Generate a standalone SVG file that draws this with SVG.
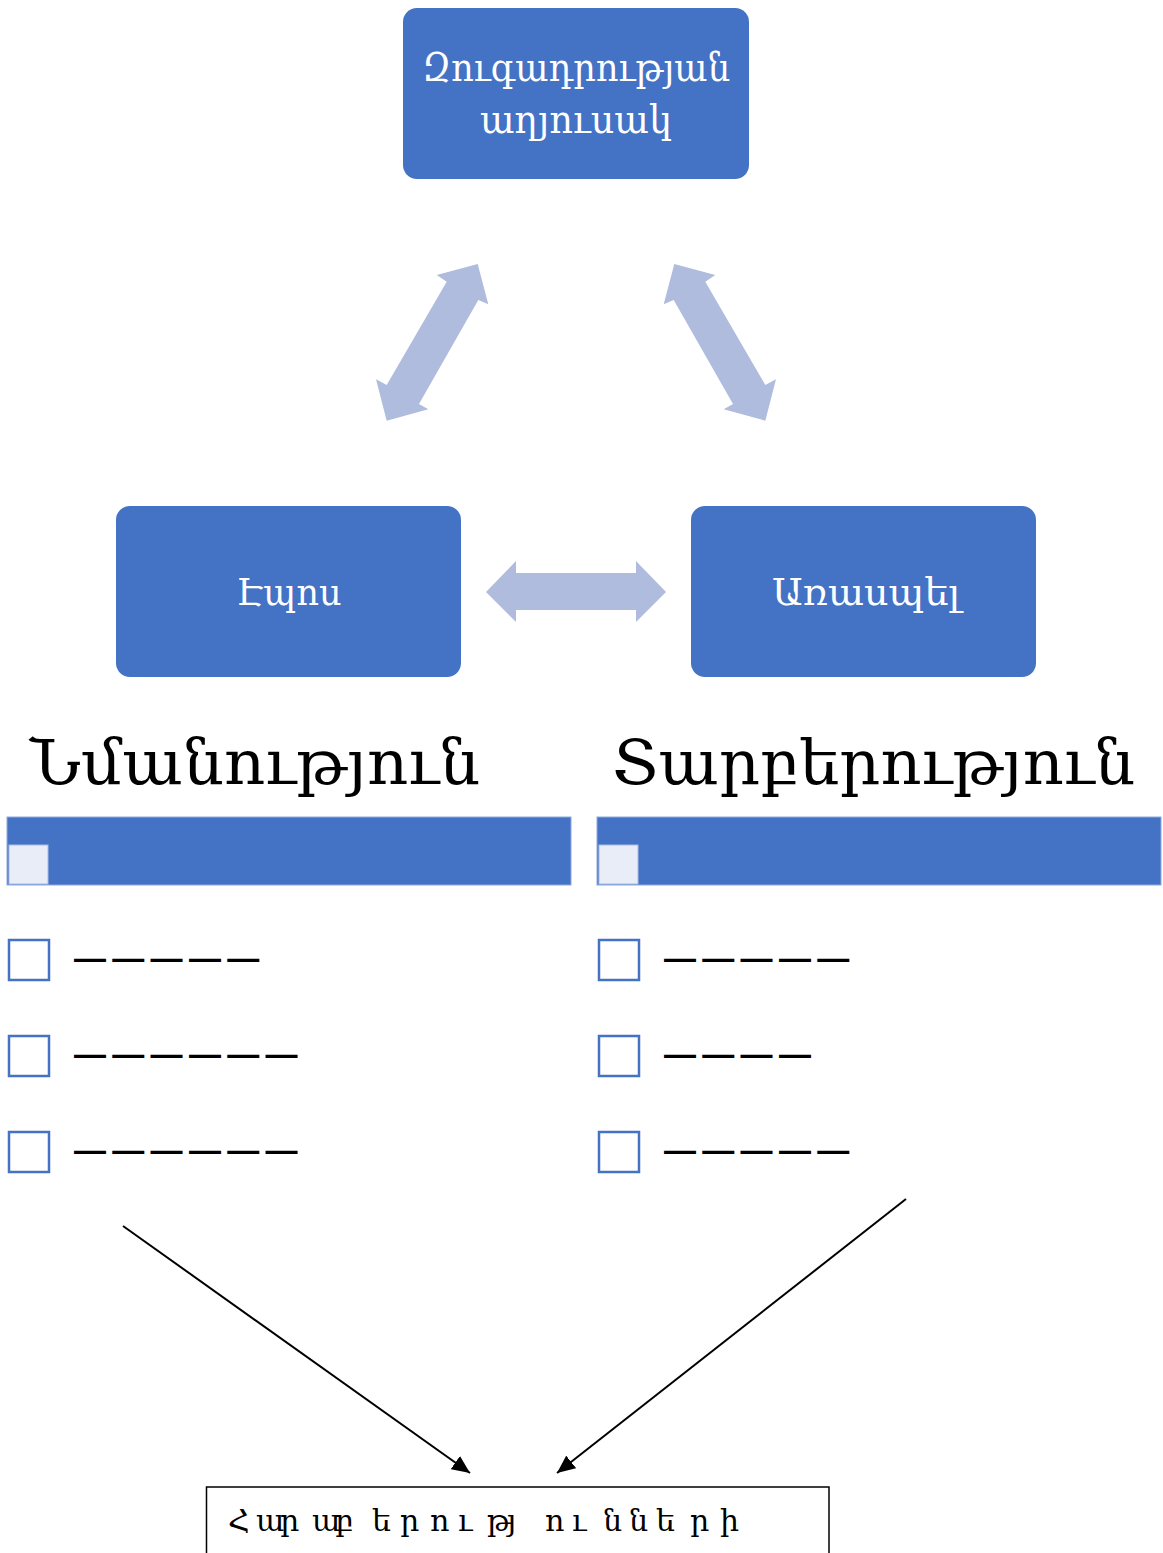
<svg xmlns="http://www.w3.org/2000/svg" width="1163" height="1553" viewBox="0 0 1163 1553">
<style>
.box{fill:#4472C4;}
.wt{fill:#FFFFFF;font-family:"DejaVu Serif","Noto Serif",serif;text-anchor:middle;}
.hdr{fill:#000000;font-family:"DejaVu Serif","Noto Serif",serif;font-size:62px;}
.bar{fill:#4472C4;stroke:#8FAADC;stroke-width:1;}
.sq{fill:#E9EDF7;stroke:#A9BCE3;stroke-width:1;}
.cb{fill:#FFFFFF;stroke:#4472C4;stroke-width:2.5;}
.dash{fill:#000000;font-family:"Liberation Sans",Arial,sans-serif;font-weight:bold;font-size:32px;letter-spacing:6.3px;}
.big{fill:#AFBCDE;}
.conn{stroke:#000000;stroke-width:2;fill:none;}
.bt{fill:#000000;font-family:"DejaVu Serif","Noto Serif",serif;font-size:30px;}
</style>
<defs>
<marker id="ah" markerUnits="userSpaceOnUse" markerWidth="20" markerHeight="16" refX="18" refY="8" orient="auto">
<path d="M0,0 L18,8 L0,16 Z" fill="#000000"/>
</marker>
</defs>

<g id="node-top">
<rect class="box" x="403" y="8" width="346" height="171" rx="14"/>
<text class="wt" x="576" y="81" font-size="39" textLength="308" lengthAdjust="spacingAndGlyphs">Զուգադրության</text>
<text class="wt" x="576" y="133" font-size="39" textLength="192" lengthAdjust="spacingAndGlyphs">աղյուսակ</text>
</g>

<g id="node-epos">
<rect class="box" x="116" y="506" width="345" height="171" rx="14"/>
<text class="wt" x="289" y="605" font-size="38" textLength="105" lengthAdjust="spacingAndGlyphs">Էպոս</text>
</g>

<g id="node-araspel">
<rect class="box" x="691" y="506" width="345" height="171" rx="14"/>
<text class="wt" x="866" y="605" font-size="38" textLength="188" lengthAdjust="spacingAndGlyphs">Առասպել</text>
</g>

<g id="big-arrows">
<polygon class="big" points="477.7,264 488.3,304.3 478.3,300 419,404 428.3,409.3 386.7,420.7 376,379.3 386.7,385 446.7,281.7 436.7,275"/>
<polygon class="big" points="674.3,264 663.7,304.3 673.7,300 733,404 723.7,409.3 765.3,420.7 776,379.3 765.3,385 705.3,281.7 715.3,275"/>
<polygon class="big" points="486,592 516,561 516,573 636,573 636,561 666,592 636,622 636,610 516,610 516,622"/>
</g>

<g id="list-similarity">
<text class="hdr" x="30" y="784" textLength="450" lengthAdjust="spacingAndGlyphs">Նմանություն</text>
<rect class="bar" x="7" y="817" width="564" height="68"/>
<rect class="sq" x="9" y="845" width="39" height="39"/>
<rect class="cb" x="9" y="940" width="40" height="40"/>
<text class="dash" x="74" y="969">—————</text>
<rect class="cb" x="9" y="1036" width="40" height="40"/>
<text class="dash" x="74" y="1065">——————</text>
<rect class="cb" x="9" y="1132" width="40" height="40"/>
<text class="dash" x="74" y="1161">——————</text>
</g>

<g id="list-difference">
<text class="hdr" x="612" y="784" textLength="523" lengthAdjust="spacingAndGlyphs">Տարբերություն</text>
<rect class="bar" x="597" y="817" width="564" height="68"/>
<rect class="sq" x="599" y="845" width="39" height="39"/>
<rect class="cb" x="599" y="940" width="40" height="40"/>
<text class="dash" x="664" y="969">—————</text>
<rect class="cb" x="599" y="1036" width="40" height="40"/>
<text class="dash" x="664" y="1065">————</text>
<rect class="cb" x="599" y="1132" width="40" height="40"/>
<text class="dash" x="664" y="1161">—————</text>
</g>

<g id="connectors">
<line class="conn" x1="123" y1="1226" x2="470" y2="1473" marker-end="url(#ah)"/>
<line class="conn" x1="906" y1="1199" x2="557" y2="1473" marker-end="url(#ah)"/>
</g>

<g id="node-relations">
<rect x="206.5" y="1487" width="622.5" height="80" fill="#FFFFFF" stroke="#000000" stroke-width="1.5"/>
<text class="bt" x="228 256 280 312 335 372 400 430 458 487 507 545 572 603 629 656 690 720" y="1531">Հարաբերությունների</text>
</g>
</svg>
